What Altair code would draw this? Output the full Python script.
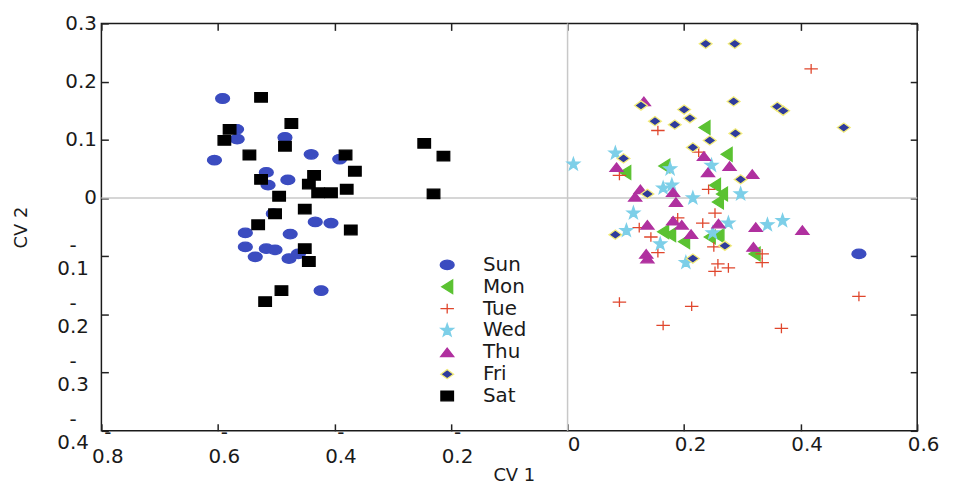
import altair as alt
import pandas as pd

days = ["Sun", "Mon", "Tue", "Wed", "Thu", "Fri", "Sat"]
fill_colors = ["#3b4cc0", "#5bc232", "#e0462c", "#7dcfe8", "#b0309f", "#2f3b9c", "#000000"]
stroke_colors = ["#3b4cc0", "#5bc232", "#e0462c", "#7dcfe8", "#b0309f", "#f3ec7a", "#000000"]
shapes = [
    "M-1,0A1,0.68,0,1,1,1,0A1,0.68,0,1,1,-1,0Z",
    "M-0.8,0L0.8,-1L0.8,1Z",
    "M-1,0H1M0,-0.72V0.72",
    "M0,-1L0.235,-0.324L0.951,-0.309L0.38,0.124L0.588,0.809L0,0.4L-0.588,0.809L-0.38,0.124L-0.951,-0.309L-0.235,-0.324Z",
    "M0,-0.65L1,0.65L-1,0.65Z",
    "M0,-0.72L1,0L0,0.72L-1,0Z",
    "M-1,-0.76H1V0.76H-1Z",
]
sizes = [196, 160, 225, 150, 240, 196, 169]

sun_x = [-0.592, -0.568, -0.567, -0.606, -0.485, -0.440, -0.391, -0.517, -0.514, -0.480, -0.505, -0.433,
         -0.406, -0.553, -0.476, -0.553, -0.536, -0.517, -0.502, -0.478, -0.462, -0.423, 0.500]
sun_y = [0.171, 0.118, 0.101, 0.065, 0.104, 0.075, 0.067, 0.044, 0.022, 0.031, -0.027, -0.041,
         -0.043, -0.060, -0.062, -0.084, -0.101, -0.087, -0.089, -0.104, -0.096, -0.159, -0.096]

mon_x = [0.235, 0.273, 0.099, 0.166, 0.253, 0.265, 0.258, 0.164, 0.176, 0.200, 0.244, 0.259, 0.321]
mon_y = [0.121, 0.075, 0.044, 0.055, 0.022, 0.007, -0.007, -0.058, -0.063, -0.075, -0.067, -0.065, -0.096]

tue_x = [0.418, 0.155, 0.225, 0.089, 0.242, 0.253, 0.189, 0.123, 0.143, 0.232, 0.251, 0.155, 0.334,
         0.334, 0.258, 0.276, 0.253, 0.500, 0.089, 0.213, 0.164, 0.367]
tue_y = [0.222, 0.116, 0.079, 0.039, 0.015, -0.026, -0.034, -0.051, -0.067, -0.043, -0.084, -0.094, -0.096,
         -0.111, -0.113, -0.120, -0.126, -0.169, -0.179, -0.186, -0.219, -0.224]

wed_x = [0.010, 0.082, 0.176, 0.247, 0.164, 0.179, 0.215, 0.297, 0.113, 0.101, 0.276, 0.343, 0.369,
         0.159, 0.203, 0.249]
wed_y = [0.058, 0.077, 0.050, 0.056, 0.017, 0.022, 0.000, 0.007, -0.026, -0.056, -0.043, -0.046, -0.039,
         -0.079, -0.111, -0.060]

thu_x = [0.131, 0.234, 0.084, 0.241, 0.278, 0.317, 0.125, 0.116, 0.181, 0.186, 0.137, 0.181, 0.196,
         0.259, 0.323, 0.403, 0.212, 0.319, 0.135, 0.137]
thu_y = [0.166, 0.072, 0.053, 0.044, 0.055, 0.041, 0.015, 0.002, 0.010, -0.007, -0.046, -0.039, -0.046,
         -0.044, -0.050, -0.055, -0.062, -0.084, -0.096, -0.104]

fri_x = [0.237, 0.287, 0.126, 0.200, 0.285, 0.360, 0.370, 0.150, 0.184, 0.210, 0.244, 0.288, 0.474,
         0.215, 0.096, 0.297, 0.137, 0.082, 0.270, 0.215]
fri_y = [0.265, 0.265, 0.159, 0.152, 0.166, 0.157, 0.150, 0.132, 0.126, 0.137, 0.099, 0.111, 0.121,
         0.087, 0.068, 0.032, 0.007, -0.063, -0.082, -0.104]

sat_x = [-0.526, -0.580, -0.474, -0.589, -0.485, -0.546, -0.435, -0.526, -0.444, -0.495, -0.428, -0.406,
         -0.451, -0.502, -0.531, -0.451, -0.444, -0.491, -0.519, -0.381, -0.365, -0.379, -0.372, -0.246,
         -0.213, -0.230]
sat_y = [0.173, 0.118, 0.128, 0.099, 0.089, 0.074, 0.039, 0.032, 0.024, 0.003, 0.009, 0.009,
         -0.019, -0.027, -0.046, -0.087, -0.109, -0.159, -0.178, 0.074, 0.046, 0.015, -0.055, 0.094,
         0.072, 0.007]

x_ticks = [-0.8, -0.6, -0.4, -0.2, 0.0, 0.2, 0.4, 0.6]
y_ticks = [-0.4, -0.3, -0.2, -0.1, 0.0, 0.1, 0.2, 0.3]
zero_lines = [0.0]

series = {
    "Sun": (sun_x, sun_y), "Mon": (mon_x, mon_y), "Tue": (tue_x, tue_y), "Wed": (wed_x, wed_y),
    "Thu": (thu_x, thu_y), "Fri": (fri_x, fri_y), "Sat": (sat_x, sat_y),
}
rows = []
for k, d in enumerate(days):
    xs, ys = series[d]
    for x, y in zip(xs, ys):
        rows.append({"day": d, "cv1": x, "cv2": y, "k": k})
df = pd.DataFrame(rows)

FONT = "DejaVu Sans"
xscale = alt.Scale(domain=[-0.8, 0.6], nice=False, zero=False)
yscale = alt.Scale(domain=[-0.4, 0.3], nice=False, zero=False)

label_expr = ("datum.value < 0 ? ['-', format(-datum.value, '.1f')] : "
              "(datum.value == 0 ? '0' : format(datum.value, '.1f'))")

x_axis = alt.Axis(
    orient="bottom", values=x_ticks, offset=-7, tickSize=7, tickWidth=1.5, tickColor="#222",
    domain=False, grid=False,
    labelExpr=label_expr, labelFont=FONT, labelFontSize=20, labelColor="#1a1a1a",
    labelBaseline="middle", labelOffset=6, labelLineHeight=24,
    labelPadding={"condition": {"test": "datum.value < 0", "value": 2}, "value": 14},
    labelFlush=False, labelOverlap=False,
    title="CV 1", titleFont=FONT, titleFontSize=18, titleFontWeight="normal", titleColor="#1a1a1a",
    titleX=415, titleY=52, titleBaseline="middle", titleAlign="center",
)
y_axis = alt.Axis(
    orient="left", values=y_ticks, offset=-7, tickSize=7, tickWidth=1.5, tickColor="#222",
    domain=False, grid=False,
    labelExpr=label_expr, labelFont=FONT, labelFontSize=20, labelColor="#1a1a1a",
    labelBaseline="middle", labelLineHeight=23, labelFlush=False, labelOverlap=False,
    labelAlign={"condition": {"test": "datum.value < 0", "value": "center"}, "value": "right"},
    labelPadding={"condition": {"test": "datum.value < 0", "value": 29}, "value": 5},
    labelOffset={"condition": {"test": "datum.value < 0", "value": -11}, "value": 0},
    title="CV 2", titleFont=FONT, titleFontSize=18, titleFontWeight="normal", titleColor="#1a1a1a",
    titleX=-87, titleY=205, titleAngle=270, titleBaseline="middle", titleAlign="center",
)

legend = alt.Legend(
    orient="none", legendX=338, legendY=233, title=None, labelFont=FONT, labelFontSize=20,
    labelColor="#1a1a1a", rowPadding=2, labelOffset=26, padding=0, symbolOpacity=1,
    symbolStrokeWidth=1.3,
)

rules_x = alt.Chart(pd.DataFrame({"z": zero_lines})).mark_rule(color="#c8c8c8", strokeWidth=1.5).encode(
    x=alt.X("z:Q", scale=xscale, axis=None)
)
rules_y = alt.Chart(pd.DataFrame({"z": zero_lines})).mark_rule(color="#c8c8c8", strokeWidth=1.5).encode(
    y=alt.Y("z:Q", scale=yscale, axis=None)
)

points = alt.Chart(df).mark_point(filled=True, opacity=1, strokeWidth=1.3).encode(
    x=alt.X("cv1:Q", scale=xscale, axis=x_axis),
    y=alt.Y("cv2:Q", scale=yscale, axis=y_axis),
    fill=alt.Fill("day:N", scale=alt.Scale(domain=days, range=fill_colors), legend=legend),
    stroke=alt.Stroke("day:N", scale=alt.Scale(domain=days, range=stroke_colors), legend=legend),
    shape=alt.Shape("day:N", scale=alt.Scale(domain=days, range=shapes), legend=legend),
    size=alt.Size("day:N", scale=alt.Scale(domain=days, range=sizes), legend=legend),
    order=alt.Order("k:Q"),
)

mirror = alt.Chart(df).mark_point(opacity=0).encode(
    x=alt.X("cv1:Q", scale=xscale, axis=alt.Axis(
        orient="top", values=x_ticks, offset=-7, tickSize=7, tickWidth=1.5, tickColor="#222",
        domain=False, grid=False, labels=False, title=None)),
    y=alt.Y("cv2:Q", scale=yscale, axis=alt.Axis(
        orient="right", values=y_ticks, offset=-7, tickSize=7, tickWidth=1.5, tickColor="#222",
        domain=False, grid=False, labels=False, title=None)),
)

chart = alt.layer(rules_x, rules_y, points, mirror).resolve_axis(
    x="independent", y="independent"
).properties(
    width=821, height=410,
    autosize=alt.AutoSizeParams(type="none"),
    padding={"left": 94, "top": 14, "right": 30, "bottom": 52},
    background="white",
).configure_view(stroke="#1a1a1a", strokeWidth=1.5)

chart.save("out.html", embed_options={"renderer": "svg", "actions": False})
